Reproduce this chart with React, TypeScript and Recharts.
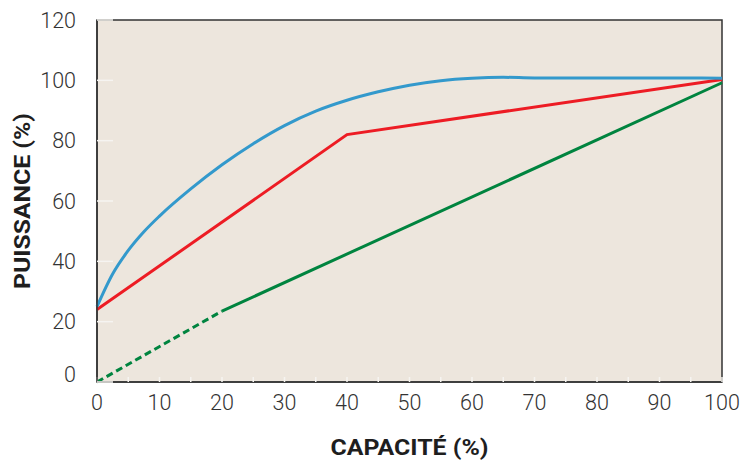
import React from 'react';
import { LineChart, Line, XAxis, YAxis, CartesianGrid, ReferenceArea } from 'recharts';

const xTicks = [0, 5, 10, 15, 20, 25, 30, 35, 40, 45, 50, 55, 60, 65, 70, 75, 80, 85, 90, 95, 100];
const yTicks = [0, 20, 40, 60, 80, 100, 120];

const blueCapacity = [0, 2.5, 5, 7.5, 10, 15, 20, 25, 30, 35, 40, 45, 50, 55, 60, 65, 70, 80, 90, 100];
const bluePower = [25, 35.8, 43.6, 49.8, 55, 64, 72, 79, 85, 89.8, 93.4, 96.2, 98.4, 99.9, 100.7, 101, 100.8, 100.8, 100.8, 100.7];

const redCapacity = [0, 40, 100];
const redPower = [24, 82, 100.3];

const greenDashCapacity = [0, 20];
const greenDashPower = [0, 23.5];
const greenCapacity = [20, 100];
const greenPower = [23.5, 99.2];

const toData = (xs: number[], ys: number[]) => xs.map((x, i) => ({ x, y: ys[i] }));

const blueData = toData(blueCapacity, bluePower);
const redData = toData(redCapacity, redPower);
const greenDashData = toData(greenDashCapacity, greenDashPower);
const greenData = toData(greenCapacity, greenPower);

const TICK_FONT = 'Roboto, "DejaVu Sans Condensed", Arial, sans-serif';
const TITLE_FONT = 'Roboto, "Liberation Sans", Arial, sans-serif';
const TICK_COLOR = '#333333';

const XTick = (props: any) => {
  const { x, y, payload } = props;
  if (payload.value % 10 !== 0) return <g />;
  return (
    <text x={x} y={y} dy={28} textAnchor="middle" fill={TICK_COLOR} fontSize={21.5} fontWeight={300} fontFamily={TICK_FONT}>
      {payload.value}
    </text>
  );
};

const YTick = (props: any) => {
  const { x, y, payload } = props;
  return (
    <text x={x - 21} y={payload.value === 0 ? y - 8 : y} dy="0.36em" textAnchor="end" fill={TICK_COLOR} fontSize={21.5} fontWeight={300} fontFamily={TICK_FONT}>
      {payload.value}
    </text>
  );
};

const XTitle = (props: any) => {
  const vb = props.viewBox;
  return (
    <text
      x={vb.x + vb.width / 2 - 79}
      y={vb.y + vb.height + 43}
      textAnchor="start"
      fill="#1e1e1e"
      fontSize={22.5}
      fontWeight="bold"
      fontFamily={TITLE_FONT}
      textLength={158}
      lengthAdjust="spacingAndGlyphs"
    >
      CAPACITÉ (%)
    </text>
  );
};

const YTitle = (props: any) => {
  const vb = props.viewBox;
  const cx = vb.x - 15;
  const cy = vb.y + vb.height / 2;
  return (
    <text
      x={cx - 88}
      y={cy}
      dy="0.36em"
      transform={`rotate(-90 ${cx} ${cy})`}
      textAnchor="start"
      fill="#1e1e1e"
      fontSize={22.5}
      fontWeight="bold"
      fontFamily={TITLE_FONT}
      textLength={176}
      lengthAdjust="spacingAndGlyphs"
    >
      PUISSANCE (%)
    </text>
  );
};

export default function App() {
  return (
    <div style={{ width: 740, height: 452 }}>
      <LineChart width={740} height={452} margin={{ top: 12, right: 26, bottom: 48, left: 29 }}>
        <CartesianGrid horizontal={false} vertical={false} fill="#ede6dd" fillOpacity={1} />
        <XAxis
          type="number"
          dataKey="x"
          domain={[0, 100]}
          ticks={xTicks}
          interval={0}
          height={30}
          tickSize={-5}
          tickMargin={5}
          tickLine={{ stroke: '#f6f4f1', strokeWidth: 1.5 }}
          axisLine={{ stroke: '#333', strokeWidth: 1.5 }}
          tick={<XTick />}
          label={<XTitle />}
          allowDuplicatedCategory={false}
        />
        <YAxis
          type="number"
          dataKey="y"
          domain={[0, 120]}
          ticks={yTicks}
          interval={0}
          width={60}
          tickSize={-16}
          tickMargin={16}
          tickLine={{ stroke: '#f6f4f1', strokeWidth: 1.5 }}
          axisLine={{ stroke: '#333', strokeWidth: 1.5 }}
          tick={<YTick />}
          label={<YTitle />}
        />
        <ReferenceArea x1={0} x2={100} y1={0} y2={120} fill="none" fillOpacity={0} stroke="#333" strokeWidth={1.5} />
        <Line data={greenDashData} dataKey="y" type="linear" stroke="#00843f" strokeWidth={3} strokeDasharray="7 4" dot={false} isAnimationActive={false} />
        <Line data={greenData} dataKey="y" type="linear" stroke="#00843f" strokeWidth={3} dot={false} isAnimationActive={false} />
        <Line data={redData} dataKey="y" type="linear" stroke="#ed1c24" strokeWidth={3} dot={false} isAnimationActive={false} />
        <Line data={blueData} dataKey="y" type="monotone" stroke="#3399cc" strokeWidth={3} dot={false} isAnimationActive={false} />
      </LineChart>
    </div>
  );
}
